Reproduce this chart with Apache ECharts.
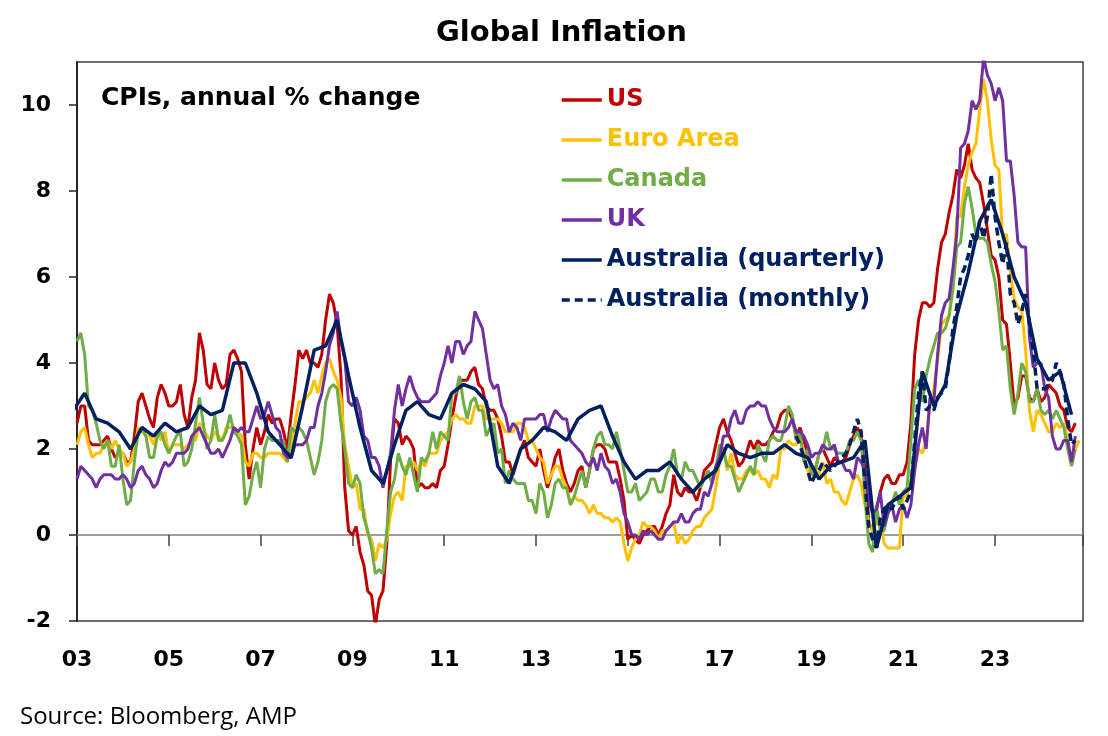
<!DOCTYPE html>
<html>
<head>
<meta charset="utf-8">
<title>Global Inflation</title>
<script src="https://cdn.jsdelivr.net/npm/echarts@6/dist/echarts.min.js"></script>
<style>
  html, body { margin: 0; padding: 0; background: #fff; }
  #main { width: 1108px; height: 736px; }
</style>
</head>
<body>
<div id="main"></div>
<script>
// months are counted from Jan 2003 (= 0)
var xMin = 0
var xMax = 263 // Dec 2024
var xTicks = ['03', '05', '07', '09', '11', '13', '15', '17', '19', '21', '23']
var yTicks = [-2, 0, 2, 4, 6, 8, 10]

// US CPI, monthly from Jan 2003
var usStart = 0
var usCpi = [
  2.6, 3.0, 3.0, 2.2, 2.1, 2.1, 2.1, 2.2, 2.3, 2.0, 1.8, 1.9,
  1.9, 1.7, 1.7, 2.3, 3.1, 3.3, 3.0, 2.7, 2.5, 3.2, 3.5, 3.3,
  3.0, 3.0, 3.1, 3.5, 2.8, 2.5, 3.2, 3.6, 4.7, 4.3, 3.5, 3.4,
  4.0, 3.6, 3.4, 3.5, 4.2, 4.3, 4.1, 3.8, 2.1, 1.3, 2.0, 2.5,
  2.1, 2.4, 2.8, 2.6, 2.7, 2.7, 2.4, 2.0, 2.8, 3.5, 4.3, 4.1,
  4.3, 4.0, 4.0, 3.9, 4.2, 5.0, 5.6, 5.4, 4.9, 3.7, 1.1, 0.1,
  0.0, 0.2, -0.4, -0.7, -1.3, -1.4, -2.1, -1.5, -1.3, -0.2, 1.8, 2.7,
  2.6, 2.1, 2.3, 2.2, 2.0, 1.1, 1.2, 1.1, 1.1, 1.2, 1.1, 1.5,
  1.6, 2.1, 2.7, 3.2, 3.6, 3.6, 3.6, 3.8, 3.9, 3.5, 3.4, 3.0,
  2.9, 2.9, 2.7, 2.3, 1.7, 1.7, 1.4, 1.7, 2.0, 2.2, 1.8, 1.7,
  1.6, 2.0, 1.5, 1.1, 1.4, 1.8, 2.0, 1.5, 1.2, 1.0, 1.2, 1.5,
  1.6, 1.1, 1.5, 2.0, 2.1, 2.1, 2.0, 1.7, 1.7, 1.7, 1.3, 0.8,
  -0.1, 0.0, -0.1, -0.2, 0.0, 0.1, 0.2, 0.2, 0.0, 0.2, 0.5, 0.7,
  1.4, 1.0, 0.9, 1.1, 1.0, 1.0, 0.8, 1.1, 1.5, 1.6, 1.7, 2.1,
  2.5, 2.7, 2.4, 2.2, 1.9, 1.6, 1.7, 1.9, 2.2, 2.0, 2.2, 2.1,
  2.1, 2.2, 2.4, 2.5, 2.8, 2.9, 2.9, 2.7, 2.3, 2.5, 2.2, 1.9,
  1.6, 1.5, 1.9, 2.0, 1.8, 1.6, 1.8, 1.7, 1.7, 1.8, 2.1, 2.3,
  2.5, 2.3, 1.5, 0.3, 0.1, 0.6, 1.0, 1.3, 1.4, 1.2, 1.2, 1.4,
  1.4, 1.7, 2.6, 4.2, 5.0, 5.4, 5.4, 5.3, 5.4, 6.2, 6.8, 7.0,
  7.5, 7.9, 8.5, 8.3, 8.6, 9.1, 8.5, 8.3, 8.2, 7.7, 7.1, 6.5,
  6.4, 6.0, 5.0, 4.9, 4.0, 3.0, 3.2, 3.7, 3.7, 3.2, 3.1, 3.4,
  3.1, 3.2, 3.5, 3.4, 3.3, 3.0, 2.9, 2.5, 2.4, 2.6
]

// Euro Area HICP, monthly from Jan 2003
var euroStart = 0
var euroCpi = [
  2.1, 2.4, 2.5, 2.1, 1.8, 1.9, 1.9, 2.1, 2.2, 2.0, 2.2, 2.0,
  1.9, 1.6, 1.7, 2.0, 2.5, 2.4, 2.3, 2.3, 2.1, 2.4, 2.2, 2.4,
  1.9, 2.1, 2.1, 2.1, 2.0, 2.1, 2.2, 2.2, 2.6, 2.5, 2.3, 2.2,
  2.4, 2.3, 2.2, 2.5, 2.5, 2.5, 2.4, 2.3, 1.7, 1.6, 1.9, 1.9,
  1.8, 1.8, 1.9, 1.9, 1.9, 1.9, 1.8, 1.7, 2.1, 2.6, 3.1, 3.1,
  3.2, 3.3, 3.6, 3.3, 3.7, 4.0, 4.1, 3.8, 3.6, 3.2, 2.1, 1.6,
  1.1, 1.2, 0.6, 0.6, 0.0, -0.1, -0.6, -0.2, -0.3, -0.1, 0.5, 0.9,
  1.0, 0.8, 1.6, 1.6, 1.7, 1.5, 1.7, 1.6, 1.9, 1.9, 1.9, 2.2,
  2.3, 2.4, 2.7, 2.8, 2.7, 2.7, 2.6, 2.6, 3.0, 3.0, 3.0, 2.7,
  2.7, 2.7, 2.7, 2.6, 2.4, 2.4, 2.4, 2.6, 2.6, 2.5, 2.2, 2.2,
  2.0, 1.8, 1.7, 1.2, 1.4, 1.6, 1.6, 1.3, 1.1, 0.7, 0.9, 0.8,
  0.8, 0.7, 0.5, 0.7, 0.5, 0.5, 0.4, 0.4, 0.3, 0.4, 0.3, -0.2,
  -0.6, -0.3, -0.1, 0.0, 0.3, 0.2, 0.2, 0.1, -0.1, 0.1, 0.1, 0.2,
  0.3, -0.2, 0.0, -0.2, -0.1, 0.1, 0.2, 0.2, 0.4, 0.5, 0.6, 1.1,
  1.7, 2.0, 1.5, 1.9, 1.4, 1.3, 1.3, 1.5, 1.5, 1.4, 1.5, 1.3,
  1.3, 1.1, 1.4, 1.3, 2.0, 2.0, 2.2, 2.1, 2.1, 2.3, 1.9, 1.5,
  1.4, 1.5, 1.4, 1.7, 1.2, 1.3, 1.0, 1.0, 0.8, 0.7, 1.0, 1.3,
  1.4, 1.2, 0.7, 0.3, 0.1, 0.3, 0.4, -0.2, -0.3, -0.3, -0.3, -0.3,
  0.9, 0.9, 1.3, 1.6, 2.0, 1.9, 2.2, 3.0, 3.4, 4.1, 4.9, 5.0,
  5.1, 5.9, 7.4, 7.4, 8.1, 8.6, 8.9, 9.1, 9.9, 10.6, 10.1, 9.2,
  8.6, 8.5, 6.9, 7.0, 6.1, 5.5, 5.3, 5.2, 4.3, 2.9, 2.4, 2.9,
  2.8, 2.6, 2.4, 2.4, 2.6, 2.5, 2.6, 2.2, 1.7, 2.0, 2.2
]

// Canada CPI, monthly from Jan 2003
var canadaStart = 0
var canadaCpi = [
  4.5, 4.7, 4.2, 3.0, 2.9, 2.6, 2.2, 2.0, 2.2, 1.6, 1.6, 2.1,
  1.3, 0.7, 0.8, 1.7, 2.4, 2.5, 2.3, 1.8, 1.8, 2.3, 2.4, 2.1,
  1.9, 2.1, 2.3, 2.4, 1.6, 1.7, 2.0, 2.6, 3.2, 2.6, 2.0, 2.2,
  2.8, 2.2, 2.2, 2.4, 2.8, 2.4, 2.3, 2.1, 0.7, 0.9, 1.4, 1.7,
  1.1, 2.0, 2.3, 2.2, 2.2, 2.2, 2.2, 1.7, 2.5, 2.4, 2.5, 2.4,
  2.2, 1.8, 1.4, 1.7, 2.2, 3.1, 3.4, 3.5, 3.4, 2.6, 2.0, 1.2,
  1.1, 1.4, 1.2, 0.4, 0.1, -0.3, -0.9, -0.8, -0.9, 0.1, 1.0, 1.3,
  1.9, 1.6, 1.4, 1.8, 1.4, 1.0, 1.8, 1.7, 1.9, 2.4, 2.0, 2.4,
  2.3, 2.2, 3.3, 3.3, 3.7, 3.1, 2.7, 3.1, 3.2, 2.9, 2.9, 2.3,
  2.5, 2.6, 1.9, 2.0, 1.2, 1.5, 1.3, 1.2, 1.2, 1.2, 0.8, 0.8,
  0.5, 1.2, 1.0, 0.4, 0.7, 1.2, 1.3, 1.1, 1.1, 0.7, 0.9, 1.2,
  1.5, 1.1, 1.5, 2.0, 2.3, 2.4, 2.1, 2.1, 2.0, 2.4, 2.0, 1.5,
  1.0, 1.0, 1.2, 0.8, 0.9, 1.0, 1.3, 1.3, 1.0, 1.0, 1.4, 1.6,
  2.0, 1.4, 1.3, 1.7, 1.5, 1.5, 1.3, 1.1, 1.3, 1.5, 1.2, 1.5,
  2.1, 2.0, 1.6, 1.6, 1.3, 1.0, 1.2, 1.4, 1.6, 1.4, 2.1, 1.9,
  1.7, 2.2, 2.3, 2.2, 2.2, 2.5, 3.0, 2.8, 2.2, 2.4, 1.7, 2.0,
  1.4, 1.5, 1.9, 2.0, 2.4, 2.0, 2.0, 1.9, 1.9, 1.9, 2.2, 2.2,
  2.4, 2.2, 0.9, -0.2, -0.4, 0.7, 0.1, 0.1, 0.5, 0.7, 1.0, 0.7,
  1.0, 1.1, 2.2, 3.4, 3.6, 3.1, 3.7, 4.1, 4.4, 4.7, 4.7, 4.8,
  5.1, 5.7, 6.7, 6.8, 7.7, 8.1, 7.6, 7.0, 6.9, 6.9, 6.8, 6.3,
  5.9, 5.2, 4.3, 4.4, 3.4, 2.8, 3.3, 4.0, 3.8, 3.1, 3.1, 3.4,
  2.9, 2.8, 2.9, 2.7, 2.9, 2.7, 2.5, 2.0, 1.6, 2.0
]

// UK CPI, monthly from Jan 2003
var ukStart = 0
var ukCpi = [
  1.3, 1.6, 1.5, 1.4, 1.3, 1.1, 1.3, 1.4, 1.4, 1.4, 1.3, 1.3,
  1.4, 1.3, 1.1, 1.2, 1.5, 1.6, 1.4, 1.3, 1.1, 1.2, 1.5, 1.7,
  1.6, 1.7, 1.9, 1.9, 1.9, 2.0, 2.3, 2.4, 2.5, 2.3, 2.1, 1.9,
  1.9, 2.0, 1.8, 2.0, 2.2, 2.5, 2.4, 2.5, 2.4, 2.4, 2.7, 3.0,
  2.7, 2.8, 3.1, 2.8, 2.5, 2.4, 1.9, 1.8, 1.8, 2.1, 2.1, 2.1,
  2.2, 2.5, 2.5, 3.0, 3.3, 3.8, 4.4, 4.7, 5.2, 4.5, 4.1, 3.1,
  3.0, 3.2, 2.9, 2.3, 2.2, 1.8, 1.8, 1.6, 1.1, 1.5, 1.9, 2.9,
  3.5, 3.0, 3.4, 3.7, 3.4, 3.2, 3.1, 3.1, 3.1, 3.2, 3.3, 3.7,
  4.0, 4.4, 4.0, 4.5, 4.5, 4.2, 4.4, 4.5, 5.2, 5.0, 4.8, 4.2,
  3.6, 3.4, 3.5, 3.0, 2.8, 2.4, 2.6, 2.5, 2.2, 2.7, 2.7, 2.7,
  2.7, 2.8, 2.8, 2.4, 2.7, 2.9, 2.8, 2.7, 2.7, 2.2, 2.1, 2.0,
  1.9, 1.7, 1.6, 1.8, 1.5, 1.9, 1.6, 1.5, 1.2, 1.3, 1.0, 0.5,
  0.3, 0.0, 0.0, -0.1, 0.1, 0.0, 0.1, 0.0, -0.1, -0.1, 0.1, 0.2,
  0.3, 0.3, 0.5, 0.3, 0.3, 0.5, 0.6, 0.6, 1.0, 0.9, 1.2, 1.6,
  1.8, 2.3, 2.3, 2.7, 2.9, 2.6, 2.6, 2.9, 3.0, 3.0, 3.1, 3.0,
  3.0, 2.7, 2.5, 2.4, 2.4, 2.4, 2.5, 2.7, 2.4, 2.4, 2.3, 2.1,
  1.8, 1.9, 1.9, 2.1, 2.0, 2.0, 2.1, 1.7, 1.7, 1.5, 1.5, 1.3,
  1.8, 1.7, 1.5, 0.8, 0.5, 0.6, 1.0, 0.2, 0.5, 0.7, 0.3, 0.6,
  0.7, 0.4, 0.7, 1.5, 2.1, 2.5, 2.0, 3.2, 3.1, 4.2, 5.1, 5.4,
  5.5, 6.2, 7.0, 9.0, 9.1, 9.4, 10.1, 9.9, 10.1, 11.1, 10.7, 10.5,
  10.1, 10.4, 10.1, 8.7, 8.7, 7.9, 6.8, 6.7, 6.7, 4.6, 3.9, 4.0,
  4.0, 3.4, 3.2, 2.3, 2.0, 2.0, 2.2, 2.2, 1.7, 2.3
]

// Australia CPI, quarterly from Q4 2002 (plotted at the quarter's last month)
var ausQStart = -1
var ausQCpi = [
  2.9,
  3.3, 2.7, 2.6, 2.4,
  2.0, 2.5, 2.3, 2.6,
  2.4, 2.5, 3.0, 2.8,
  2.9, 4.0, 4.0, 3.3,
  2.4, 2.1, 1.8, 3.0,
  4.3, 4.4, 5.0, 3.7,
  2.5, 1.5, 1.2, 2.1,
  2.9, 3.1, 2.8, 2.7,
  3.3, 3.5, 3.4, 3.1,
  1.6, 1.2, 2.0, 2.2,
  2.5, 2.4, 2.2, 2.7,
  2.9, 3.0, 2.3, 1.7,
  1.3, 1.5, 1.5, 1.7,
  1.3, 1.0, 1.3, 1.5,
  2.1, 1.9, 1.8, 1.9,
  1.9, 2.1, 1.9, 1.8,
  1.3, 1.6, 1.7, 1.8,
  2.2, -0.3, 0.7, 0.9,
  1.1, 3.8, 3.0, 3.5,
  5.1, 6.1, 7.3, 7.8,
  7.0, 6.0, 5.4, 4.1,
  3.6, 3.8, 2.8
]

// Australia monthly CPI indicator, from Sep 2018
var ausMStart = 188
var ausMCpi = [
  2.3, 2.1, 1.8, 1.5,
  1.2, 1.4, 1.5, 1.7, 1.6, 1.5, 1.6, 1.7, 1.8, 1.9, 2.1, 2.4,
  2.7, 2.4, 1.2, 0.2, -0.1, -0.3, 0.4, 0.6, 0.7, 0.6, 0.8, 0.9,
  0.6, 0.8, 1.0, 2.2, 3.3, 3.8, 2.9, 3.0, 2.9, 3.2, 3.3, 3.4,
  4.0, 4.8, 5.3, 6.0, 6.2, 6.5, 7.0, 6.8, 7.3, 6.9, 7.4, 8.4,
  7.4, 6.8, 6.3, 6.8, 5.6, 5.4, 4.9, 5.2, 5.6, 4.9, 4.3, 3.4,
  3.4, 3.4, 3.5, 3.6, 4.0, 3.8, 3.5, 2.7, 2.1, 2.2
]

function toPairs (start, step, values) {
  return values.map((v, i) => [start + i * step, v])
}

var font = 'DejaVu Sans'
var seriesList = [
  { name: 'US', color: '#C00000', data: toPairs(usStart, 1, usCpi) },
  { name: 'Euro Area', color: '#FFC000', data: toPairs(euroStart, 1, euroCpi) },
  { name: 'Canada', color: '#70AD47', data: toPairs(canadaStart, 1, canadaCpi) },
  { name: 'UK', color: '#7030A0', data: toPairs(ukStart, 1, ukCpi) },
  { name: 'Australia (quarterly)', color: '#002060', data: toPairs(ausQStart, 3, ausQCpi), width: 3.5 },
  { name: 'Australia (monthly)', color: '#002060', data: toPairs(ausMStart, 1, ausMCpi), width: 3.5, dash: [8, 5] }
]

var myChart = echarts.init(document.getElementById('main'))
myChart.setOption({
  animation: false,
  backgroundColor: '#fff',
  title: [
    {
      text: 'Global Inflation',
      left: 431,
      top: 14,
      textStyle: { fontFamily: font, fontSize: 29, fontWeight: 'bold', color: '#000' }
    },
    {
      text: 'CPIs, annual % change',
      left: 96,
      top: 81,
      textStyle: { fontFamily: font, fontSize: 25, fontWeight: 'bold', color: '#000' }
    },
    {
      text: 'Source: Bloomberg, AMP',
      left: 15,
      top: 700,
      textStyle: { fontFamily: 'Open Sans', fontSize: 24, fontWeight: 'normal', color: '#000' }
    }
  ],
  legend: {
    orient: 'vertical',
    left: 560,
    top: 88,
    itemWidth: 40,
    itemHeight: 24,
    itemGap: 16,
    padding: 0,
    // hide the symbol drawn in the middle of each legend line
    itemStyle: { opacity: 0 },
    lineStyle: { width: 3.5 },
    textStyle: { fontFamily: font, fontSize: 24, fontWeight: 'bold', lineHeight: 24 },
    data: seriesList.map(s => ({ name: s.name, textStyle: { color: s.color } }))
  },
  grid: {
    left: 77,
    right: 25,
    top: 62,
    bottom: 115,
    show: true,
    borderColor: '#404040',
    borderWidth: 1.5,
    containLabel: false
  },
  xAxis: [
    {
      type: 'value',
      min: xMin,
      max: xMax,
      interval: 24,
      axisLine: { show: true, onZero: true, lineStyle: { color: '#808080', width: 1.5 } },
      axisTick: { show: true, inside: false, length: 11, lineStyle: { color: '#404040', width: 1.5 } },
      axisLabel: { show: false },
      splitLine: { show: false }
    },
    {
      type: 'value',
      position: 'bottom',
      min: xMin,
      max: xMax,
      interval: 24,
      axisLine: { show: false, onZero: false },
      axisTick: { show: false },
      splitLine: { show: false },
      axisLabel: {
        margin: 28,
        showMaxLabel: false,
        fontFamily: font,
        fontSize: 22,
        fontWeight: 'bold',
        color: '#000',
        formatter: v => (v % 24 === 0 ? xTicks[v / 24] : '')
      }
    }
  ],
  yAxis: {
    type: 'value',
    min: -2,
    max: 11,
    interval: 2,
    axisLine: { show: true, onZero: false, lineStyle: { color: '#262626', width: 2 } },
    axisTick: { show: true, length: 8, lineStyle: { color: '#262626', width: 1.5 } },
    splitLine: { show: false },
    axisLabel: {
      margin: 26,
      showMaxLabel: false,
      fontFamily: font,
      fontSize: 22,
      fontWeight: 'bold',
      color: '#000',
      formatter: v => (yTicks.indexOf(v) >= 0 ? String(v) : '')
    }
  },
  series: seriesList.map(s => ({
    name: s.name,
    type: 'line',
    xAxisIndex: 0,
    data: s.data,
    symbol: 'none',
    clip: true,
    color: s.color,
    lineStyle: { color: s.color, width: s.width || 3, type: s.dash || 'solid' },
    emphasis: { disabled: true }
  }))
})
</script>
</body>
</html>
